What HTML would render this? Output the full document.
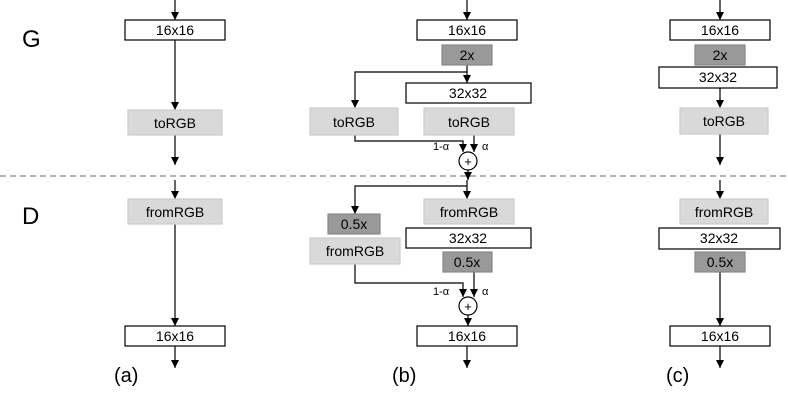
<!DOCTYPE html>
<html><head><style>body{margin:0;background:#fff}svg{display:block}text{font-family:"Liberation Sans",sans-serif}</style></head><body>
<svg width="788" height="400" viewBox="0 0 788 400" xmlns="http://www.w3.org/2000/svg">
<defs><marker id="a" markerWidth="8" markerHeight="8" refX="4" refY="6" orient="auto" markerUnits="userSpaceOnUse"><path d="M0,0 L8,0 L4,6 z" transform="translate(0,0)" fill="#000"/></marker>
<marker id="m" viewBox="0 0 8 8" markerWidth="8" markerHeight="8" refX="8" refY="4" orient="auto" markerUnits="userSpaceOnUse"><path d="M0,0 L8,4 L0,8 z" fill="#000"/></marker></defs>
<g stroke="#000" stroke-width="1.2" fill="none">
<!-- column a -->
<path d="M175 0V20" marker-end="url(#m)"/><path d="M175 40V110" marker-end="url(#m)"/><path d="M175 135V165" marker-end="url(#m)"/>
<path d="M175 180V199" marker-end="url(#m)"/><path d="M175 224V326" marker-end="url(#m)"/><path d="M175 346V368" marker-end="url(#m)"/>
<!-- column b -->
<path d="M467 0V20" marker-end="url(#m)"/><path d="M467 65V83" marker-end="url(#m)"/><path d="M467 72H355V108" marker-end="url(#m)"/>
<path d="M355 135V141H463V152" marker-end="url(#m)"/><path d="M474 135V152" marker-end="url(#m)"/><path d="M468 170V180" marker-end="url(#m)"/>
<path d="M467 180V199" marker-end="url(#m)"/><path d="M467 186H355V214" marker-end="url(#m)"/>
<path d="M355 264V283H463V297" marker-end="url(#m)"/><path d="M474 272V297" marker-end="url(#m)"/><path d="M468 315V326" marker-end="url(#m)"/><path d="M467 346V368" marker-end="url(#m)"/>
<!-- column c -->
<path d="M720 0V20" marker-end="url(#m)"/><path d="M720 88V108" marker-end="url(#m)"/><path d="M720 134V165" marker-end="url(#m)"/>
<path d="M720 180V199" marker-end="url(#m)"/><path d="M720 272V326" marker-end="url(#m)"/><path d="M720 346V368" marker-end="url(#m)"/>
<circle cx="468" cy="161" r="9" fill="#fff"/><circle cx="468" cy="306" r="9" fill="#fff"/>
</g>
<line x1="0" y1="176" x2="788" y2="176" stroke="#888" stroke-width="1.2" stroke-dasharray="6,4"/>
<g stroke-width="1.2">
<rect x="125" y="20" width="100" height="20" fill="#fff" stroke="#000"/>
<rect x="128" y="110" width="94" height="25" fill="#d9d9d9" stroke="#ccc"/>
<rect x="128" y="199" width="94" height="25" fill="#d9d9d9" stroke="#ccc"/>
<rect x="125" y="326" width="100" height="20" fill="#fff" stroke="#000"/>
<rect x="417" y="20" width="100" height="20" fill="#fff" stroke="#000"/>
<rect x="442" y="45" width="50" height="20" fill="#999" stroke="#888"/>
<rect x="406" y="83" width="125" height="20" fill="#fff" stroke="#000"/>
<rect x="310" y="108" width="88" height="27" fill="#d9d9d9" stroke="#ccc"/>
<rect x="424" y="108" width="90" height="27" fill="#d9d9d9" stroke="#ccc"/>
<rect x="424" y="199" width="90" height="25" fill="#d9d9d9" stroke="#ccc"/>
<rect x="406" y="228" width="125" height="20" fill="#fff" stroke="#000"/>
<rect x="443" y="252" width="49" height="20" fill="#999" stroke="#888"/>
<rect x="328" y="214" width="52" height="20" fill="#999" stroke="#888"/>
<rect x="310" y="238" width="90" height="26" fill="#d9d9d9" stroke="#ccc"/>
<rect x="417" y="326" width="100" height="20" fill="#fff" stroke="#000"/>
<rect x="670" y="20" width="100" height="20" fill="#fff" stroke="#000"/>
<rect x="695" y="45" width="50" height="20" fill="#999" stroke="#888"/>
<rect x="659" y="67" width="118" height="21" fill="#fff" stroke="#000"/>
<rect x="680" y="108" width="88" height="26" fill="#d9d9d9" stroke="#ccc"/>
<rect x="680" y="199" width="88" height="25" fill="#d9d9d9" stroke="#ccc"/>
<rect x="659" y="228" width="121" height="21" fill="#fff" stroke="#000"/>
<rect x="695" y="252" width="50" height="20" fill="#999" stroke="#888"/>
<rect x="670" y="326" width="100" height="20" fill="#fff" stroke="#000"/>
</g>
<g font-size="14" text-anchor="middle" fill="#000">
<text x="175" y="35">16x16</text><text x="175" y="128">toRGB</text><text x="175" y="217">fromRGB</text><text x="175" y="341">16x16</text>
<text x="467" y="35">16x16</text><text x="467" y="60">2x</text><text x="468" y="98">32x32</text><text x="354" y="127">toRGB</text><text x="469" y="127">toRGB</text>
<text x="469" y="217">fromRGB</text><text x="468" y="243">32x32</text><text x="467" y="267">0.5x</text><text x="354" y="229">0.5x</text><text x="355" y="256">fromRGB</text><text x="467" y="341">16x16</text>
<text x="720" y="35">16x16</text><text x="720" y="60">2x</text><text x="718" y="82">32x32</text><text x="724" y="126">toRGB</text>
<text x="724" y="217">fromRGB</text><text x="719" y="243">32x32</text><text x="720" y="267">0.5x</text><text x="720" y="341">16x16</text>
<text x="468" y="166" font-size="13">+</text><text x="468" y="311" font-size="13">+</text>
</g>
<g font-size="11" font-family="Liberation Serif">
<text x="433" y="150">1-α</text><text x="482" y="150">α</text>
<text x="433" y="295">1-α</text><text x="482" y="295">α</text>
</g>
<g font-size="20"><text x="114" y="382">(a)</text><text x="392" y="382">(b)</text><text x="666" y="382">(c)</text></g>
<g font-size="24"><text x="22" y="47">G</text><text x="22" y="224">D</text></g>
</svg>
</body></html>
